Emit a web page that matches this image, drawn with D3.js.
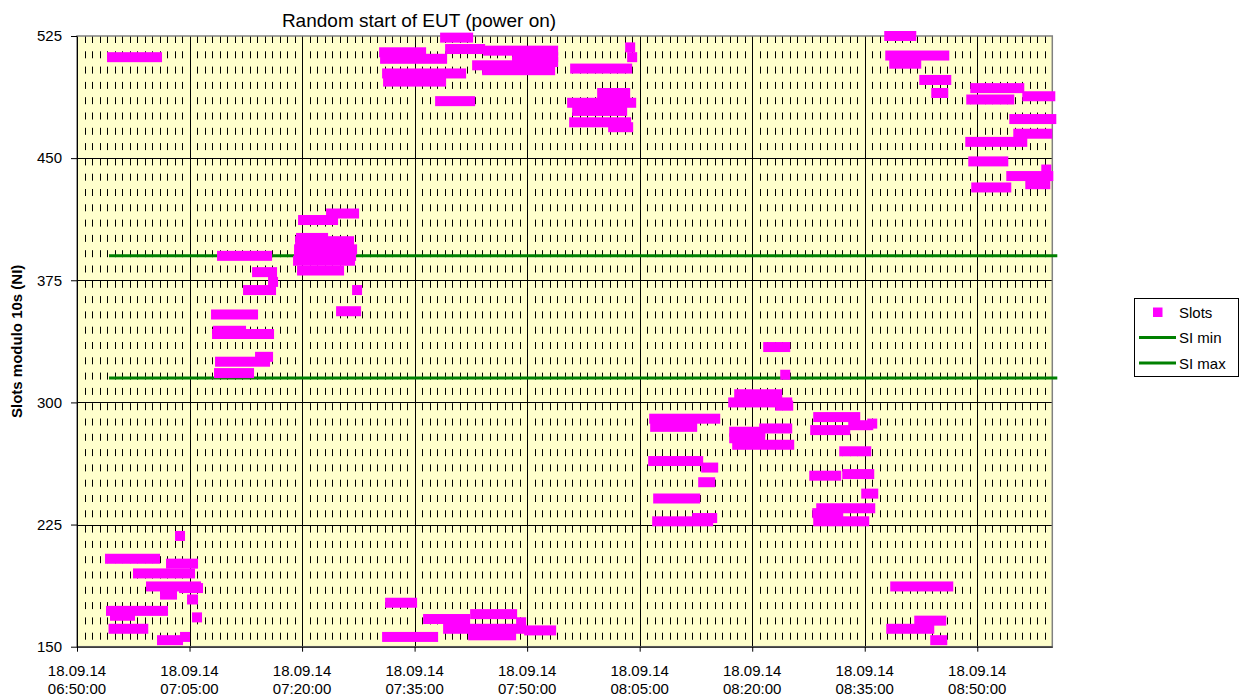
<!DOCTYPE html>
<html>
<head>
<meta charset="utf-8">
<script src="https://cdn.jsdelivr.net/npm/d3@7"></script>
<style>
  body { margin: 0; background: #fff; }
  svg { display: block; font-family: Arial, "Liberation Sans", sans-serif; }
</style>
</head>
<body>
<svg id="chart" width="1239" height="696"></svg>
<script>
// Runs of consecutive Slots points: [first time, last time, slot]
var slotRuns = [
  // 06:50 - 07:05
  ["06:54:40","07:00:40",512],
  ["06:54:24","07:00:24",204],
  ["07:03:44","07:03:44",218],
  ["07:02:32","07:05:28",201],
  ["06:58:08","07:05:04",195],
  ["06:59:52","07:05:52",187],
  ["07:04:16","07:06:08",186],
  ["07:01:44","07:02:40",182],
  ["07:05:20","07:05:28",179],
  ["06:54:32","07:01:28",172],
  ["06:55:04","06:57:04",169],
  ["07:06:00","07:06:00",168],
  ["06:54:52","06:58:50",161],
  ["07:01:20","07:03:28",154],
  ["07:04:24","07:04:24",156],
  // 07:08 - 07:27
  ["07:23:52","07:26:56",416],
  ["07:20:08","07:24:08",412],
  ["07:19:52","07:22:48",401],
  ["07:19:44","07:26:16",399],
  ["07:19:36","07:26:40",394],
  ["07:19:36","07:26:32",390],
  ["07:19:28","07:26:24",387],
  ["07:20:00","07:24:56",381],
  ["07:09:20","07:15:20",390],
  ["07:14:00","07:16:00",380],
  ["07:16:08","07:16:08",374],
  ["07:12:48","07:15:52",369],
  ["07:27:20","07:27:20",369],
  ["07:08:32","07:13:28",354],
  ["07:25:12","07:27:12",356],
  ["07:08:48","07:11:52",344],
  ["07:08:40","07:15:36",342],
  ["07:14:24","07:15:28",328],
  ["07:09:04","07:15:04",325],
  ["07:08:56","07:12:56",318],
  // 07:30 - 07:53
  ["07:39:04","07:42:08",524],
  ["07:30:56","07:35:52",515],
  ["07:31:04","07:38:40",511],
  ["07:39:44","07:43:44",517],
  ["07:44:48","07:53:28",516],
  ["07:48:40","07:53:28",512],
  ["07:48:40","07:53:28",509],
  ["07:43:20","07:47:28",507],
  ["07:44:40","07:53:04",504],
  ["07:31:20","07:41:12",502],
  ["07:31:28","07:38:32",497],
  ["07:38:24","07:42:24",485],
  ["07:31:44","07:34:40",177],
  ["07:31:20","07:37:28",156],
  ["07:36:48","07:41:44",167],
  ["07:43:04","07:48:00",170],
  ["07:39:28","07:49:12",161],
  ["07:49:12","07:49:12",165],
  ["07:42:48","07:47:52",157],
  ["07:50:16","07:53:12",160],
  // 07:56 - 08:04
  ["08:03:44","08:03:44",518],
  ["08:04:00","08:04:00",512],
  ["07:56:24","08:03:20",505],
  ["08:00:00","08:03:04",490],
  ["07:56:00","08:03:52",484],
  ["07:56:40","08:02:40",479],
  ["07:56:16","08:03:12",472],
  ["08:01:28","08:03:28",469],
  // 08:06 - 08:25
  ["08:18:16","08:23:20",305],
  ["08:17:28","08:24:40",300],
  ["08:23:44","08:24:48",298],
  ["08:06:56","08:15:04",290],
  ["08:07:04","08:12:00",285],
  ["08:17:36","08:21:04",282],
  ["08:17:36","08:21:04",278],
  ["08:21:36","08:24:40",284],
  ["08:18:00","08:24:56",274],
  ["08:06:48","08:12:48",264],
  ["08:13:52","08:14:48",260],
  ["08:13:28","08:14:24",251],
  ["08:07:28","08:12:24",241],
  ["08:07:20","08:14:08",227],
  ["08:12:40","08:14:40",229],
  ["08:22:08","08:24:24",334],
  ["08:24:24","08:24:24",317],
  // 08:28 - 08:36
  ["08:28:48","08:33:44",291],
  ["08:36:00","08:36:00",287],
  ["08:28:24","08:32:24",283],
  ["08:33:28","08:35:28",286],
  ["08:32:16","08:35:12",270],
  ["08:28:16","08:31:12",255],
  ["08:32:40","08:35:36",256],
  ["08:35:12","08:36:08",244],
  ["08:29:12","08:35:44",235],
  ["08:28:40","08:31:28",232],
  ["08:28:48","08:34:56",227],
  // 08:38 - 09:00
  ["08:38:16","08:41:12",525],
  ["08:38:24","08:45:36",513],
  ["08:38:56","08:41:52",508],
  ["08:42:56","08:45:52",498],
  ["08:44:32","08:45:28",490],
  ["08:49:44","08:55:36",493],
  ["08:56:40","08:59:44",488],
  ["08:49:12","08:54:16",486],
  ["08:54:56","08:59:52",474],
  ["08:55:28","08:59:20",465],
  ["08:49:04","08:56:00",460],
  ["08:49:28","08:53:28",448],
  ["08:54:32","08:59:28",439],
  ["08:59:12","08:59:12",443],
  ["08:57:04","08:59:04",434],
  ["08:49:52","08:53:52",432],
  ["08:39:04","08:46:08",187],
  ["08:42:16","08:45:12",166],
  ["08:38:32","08:43:36",161],
  ["08:44:24","08:45:20",154]
];

var siMin = 315;
var siMax = 390;
var siSpan = ["06:54:16", "09:00:40"];

var timeDomain = ["06:50:00", "09:00:00"];
var xTickTimes = ["06:50:00","07:05:00","07:20:00","07:35:00","07:50:00",
                  "08:05:00","08:20:00","08:35:00","08:50:00"];
var yTicks = [150, 225, 300, 375, 450, 525];
var legendItems = ["Slots", "SI min", "SI max"];

(function() {
  var parseT = d3.timeParse("%d.%m.%y %H:%M:%S");
  function t(s) { return parseT("18.09.14 " + s); }

  var svg = d3.select("#chart");
  var pL = 77, pR = 1052.3, pT = 36, pB = 646.7;

  var x = d3.scaleTime().domain(timeDomain.map(t)).range([pL, pR]);
  var y = d3.scaleLinear().domain([150, 525]).range([pB, pT]);

  // plot background
  svg.append("rect")
    .attr("x", pL).attr("y", pT)
    .attr("width", pR - pL).attr("height", pB - pT)
    .attr("fill", "#FFFFCC");

  // minor gridlines, every minute
  var majors = xTickTimes.map(function(s) { return +t(s); });
  var minors = d3.timeMinute.range(t(timeDomain[0]), t(timeDomain[1]))
    .filter(function(d) { return majors.indexOf(+d) < 0; });

  svg.append("g").selectAll("line")
    .data(minors).enter().append("line")
    .attr("x1", function(d) { return Math.round(x(d)) + 0.5; })
    .attr("x2", function(d) { return Math.round(x(d)) + 0.5; })
    .attr("y1", pT).attr("y2", pB)
    .attr("stroke", "#000")
    .attr("stroke-width", 1)
    .attr("stroke-dasharray", "7,8.3");

  // major gridlines
  svg.append("g").selectAll("line")
    .data(xTickTimes.slice(1)).enter().append("line")
    .attr("x1", function(d) { return Math.round(x(t(d))) + 0.5; })
    .attr("x2", function(d) { return Math.round(x(t(d))) + 0.5; })
    .attr("y1", pT).attr("y2", pB)
    .attr("stroke", "#000");

  svg.append("g").selectAll("line")
    .data(yTicks.slice(1, -1)).enter().append("line")
    .attr("x1", pL).attr("x2", pR)
    .attr("y1", function(d) { return Math.round(y(d)) + 0.5; })
    .attr("y2", function(d) { return Math.round(y(d)) + 0.5; })
    .attr("stroke", "#000");

  // plot border
  svg.append("rect")
    .attr("x", pL).attr("y", pT)
    .attr("width", pR - pL).attr("height", pB - pT)
    .attr("fill", "none")
    .attr("stroke", "#808080")
    .attr("stroke-width", 1.5);

  // SI lines
  var line = d3.line()
    .x(function(d) { return x(t(d[0])); })
    .y(function(d) { return y(d[1]); });

  [siMax, siMin].forEach(function(v) {
    svg.append("path")
      .datum(siSpan.map(function(s) { return [s, v]; }))
      .attr("d", line)
      .attr("fill", "none")
      .attr("stroke", "#008000")
      .attr("stroke-width", 3);
  });

  // slots markers (runs of square markers)
  var ms = 10;
  svg.append("g").selectAll("rect")
    .data(slotRuns).enter().append("rect")
    .attr("x", function(d) { return x(t(d[0])) - ms / 2; })
    .attr("width", function(d) { return x(t(d[1])) - x(t(d[0])) + ms; })
    .attr("y", function(d) { return y(d[2]) - ms / 2; })
    .attr("height", ms)
    .attr("fill", "#FF00FF");

  // axes
  var yAxis = d3.axisLeft(y).tickValues(yTicks).tickSize(6).tickPadding(9).tickSizeOuter(0);
  var gy = svg.append("g").attr("transform", "translate(" + pL + ",0)").call(yAxis);
  gy.selectAll("text").attr("font-size", 15).attr("fill", "#000")
    .attr("font-family", "Arial, 'Liberation Sans', sans-serif");
  gy.select(".domain").attr("stroke", "#000");

  var xAxis = d3.axisBottom(x).tickValues(xTickTimes.map(t)).tickSize(5).tickSizeOuter(0).tickFormat("");
  var gx = svg.append("g").attr("transform", "translate(0," + pB + ")").call(xAxis);
  gx.select(".domain").attr("stroke", "#000");

  var fDate = d3.timeFormat("%d.%m.%y"), fTime = d3.timeFormat("%H:%M:%S");
  var lbl = svg.append("g").selectAll("text")
    .data(xTickTimes.map(t)).enter().append("text")
    .attr("text-anchor", "middle")
    .attr("font-size", 15)
    .attr("fill", "#000");
  lbl.append("tspan").attr("x", function(d) { return x(d); }).attr("y", 676).text(fDate);
  lbl.append("tspan").attr("x", function(d) { return x(d); }).attr("y", 694).text(fTime);

  // titles
  svg.append("text")
    .attr("x", 419).attr("y", 27)
    .attr("text-anchor", "middle")
    .attr("font-size", 19)
    .text("Random start of EUT (power on)");

  svg.append("text")
    .attr("transform", "translate(22," + ((pT + pB) / 2) + ") rotate(-90)")
    .attr("text-anchor", "middle")
    .attr("font-size", 15)
    .attr("font-weight", "bold")
    .text("Slots modulo 10s (NI)");

  // legend
  var lg = svg.append("g").attr("transform", "translate(1134,298)");
  lg.append("rect")
    .attr("x", 0.5).attr("y", 0.5).attr("width", 104).attr("height", 78)
    .attr("fill", "#fff").attr("stroke", "#000");
  var items = lg.selectAll("g.item").data(legendItems).enter().append("g")
    .attr("class", "item")
    .attr("transform", function(d, i) { return "translate(0," + (14 + i * 25.5) + ")"; });
  items.each(function(d, i) {
    var g = d3.select(this);
    if (i === 0) {
      g.append("rect").attr("x", 19).attr("y", -4.5).attr("width", 9.5).attr("height", 9.5)
        .attr("fill", "#FF00FF");
    } else {
      g.append("line").attr("x1", 5).attr("x2", 42).attr("y1", 0).attr("y2", 0)
        .attr("stroke", "#008000").attr("stroke-width", 3);
    }
    g.append("text").attr("x", 45).attr("y", 5.5).attr("font-size", 15).text(d);
  });
})();
</script>
</body>
</html>
